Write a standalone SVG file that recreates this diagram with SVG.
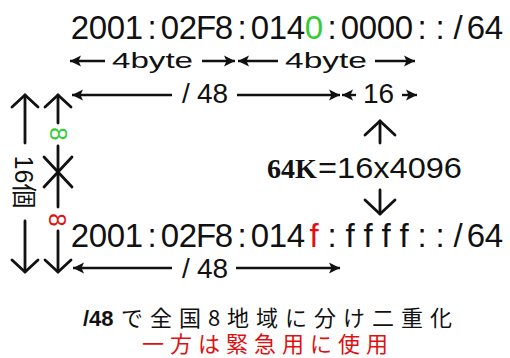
<svg xmlns="http://www.w3.org/2000/svg" width="510" height="358" viewBox="0 0 510 358">
<style>
.addr{font-family:"Liberation Sans",Arial,sans-serif;font-size:33px;fill:#111;text-anchor:middle}
.lbl{font-family:"Liberation Sans",Arial,sans-serif;font-size:22px;fill:#111}
.big{font-family:"Liberation Sans",Arial,sans-serif;font-size:28px;fill:#111}
.ln{stroke:#111;stroke-width:2.4;fill:none}
.thick{stroke:#111;stroke-width:2.8;fill:none;stroke-linecap:round;stroke-linejoin:round}
.jp{font-family:"Noto Sans CJK JP",sans-serif;font-size:22px}
.grn{fill:#33cc33}
.red{fill:#e01010}
</style>
<defs>
<marker id="ah" markerUnits="userSpaceOnUse" markerWidth="13" markerHeight="13" refX="11" refY="6" orient="auto-start-reverse">
<path d="M0,0.5 L11,6 L0,11.5 L2.5,6 Z" fill="#111"/>
</marker>
</defs>
<rect width="510" height="358" fill="#fff"/>

<g id="addr-top">
<text class="addr" y="39"><tspan x="80 98 116 134 152 170 188 206 224 242 260 278 296">2001:02F8:014</tspan><tspan x="314" class="grn">0</tspan><tspan x="332 350 368 386 404 422 440 458 476 494">:0000::/64</tspan></text>
</g>

<g id="addr-bottom">
<text class="addr" y="247"><tspan x="80 98 116 134 152 170 188 206 224 242 260 278 296">2001:02F8:014</tspan><tspan x="314" class="red">f</tspan><tspan x="332 350 368 386 404 422 440 458 476 494">:ffff::/64</tspan></text>
</g>

<g id="labels">
<text class="lbl" x="112" y="68" textLength="81" lengthAdjust="spacingAndGlyphs">4byte</text>
<text class="lbl" x="285" y="68" textLength="82" lengthAdjust="spacingAndGlyphs">4byte</text>
<text class="big" x="186" y="103" text-anchor="middle">/</text>
<text class="big" x="197" y="103">48</text>
<text class="big" x="363" y="103">16</text>
<text class="big" x="186" y="278" text-anchor="middle">/</text>
<text class="big" x="197" y="278">48</text>
</g>

<g id="calc">
<text x="267" y="178" style="font-family:'Liberation Serif','Times New Roman',serif;font-weight:bold;font-size:28px" fill="#111">64K</text>
<text class="big" x="318" y="178" style="font-size:29px" textLength="144" lengthAdjust="spacingAndGlyphs">=16x4096</text>
</g>

<g id="count16">
<text class="lbl" style="font-family:'Liberation Sans','Noto Sans CJK JP',sans-serif;font-size:25px" text-anchor="middle" x="0" y="9" transform="translate(24,182) rotate(90)">16個</text>
<text class="big grn" style="font-size:24px" text-anchor="middle" x="0" y="8.5" transform="translate(58,134) rotate(90)">8</text>
<text class="big red" style="font-size:24px" text-anchor="middle" x="0" y="8.5" transform="translate(57,220) rotate(90)">8</text>
</g>

<g id="connectors">
<line class="ln" x1="105" y1="61" x2="70" y2="61" marker-end="url(#ah)"/>
<line class="ln" x1="202" y1="61" x2="235" y2="61" marker-end="url(#ah)"/>
<line class="ln" x1="278" y1="61" x2="238" y2="61" marker-end="url(#ah)"/>
<line class="ln" x1="375" y1="61" x2="415" y2="61" marker-end="url(#ah)"/>
<line class="ln" x1="172" y1="95" x2="72" y2="95" marker-end="url(#ah)"/>
<line class="ln" x1="237" y1="95" x2="340" y2="95" marker-end="url(#ah)"/>
<line class="ln" x1="356" y1="95" x2="342" y2="95" marker-end="url(#ah)"/>
<line class="ln" x1="402" y1="95" x2="417" y2="95" marker-end="url(#ah)"/>
<line class="ln" x1="172" y1="268" x2="73" y2="268" marker-end="url(#ah)"/>
<line class="ln" x1="236" y1="268" x2="340" y2="268" marker-end="url(#ah)"/>
<line class="thick" x1="380" y1="121" x2="380" y2="143"/>
<polyline class="thick" points="365,135 380,121 395,135"/>
<line class="thick" x1="380" y1="190" x2="380" y2="214"/>
<polyline class="thick" points="365,200 380,214 395,200"/>
<polyline class="thick" points="12,107 25,95 38,107"/>
<polyline class="thick" points="45,107 58,95 71,107"/>
<line class="thick" x1="25" y1="95" x2="25" y2="143"/>
<line class="thick" x1="25" y1="221" x2="25" y2="272"/>
<polyline class="thick" points="12,260 25,272 38,260"/>
<polyline class="thick" points="45,260 58,272 71,260"/>
<line class="thick" x1="58" y1="95" x2="58" y2="123"/>
<line class="thick" x1="58" y1="146" x2="58" y2="207"/>
<line class="thick" x1="58" y1="231" x2="58" y2="272"/>
<line class="thick" x1="44" y1="157" x2="72" y2="187"/>
<line class="thick" x1="72" y1="157" x2="44" y2="187"/>
</g>

<g id="note">
<text x="83" y="326" fill="#111" style="font-family:'Liberation Sans',Arial,sans-serif;font-weight:bold;font-size:22px">/48</text>
<text class="jp" x="121" y="326" fill="#111" textLength="331" lengthAdjust="spacing">で全国8地域に分け二重化</text>
<text class="jp red" x="142" y="352" textLength="246" lengthAdjust="spacing">一方は緊急用に使用</text>
</g>
</svg>
